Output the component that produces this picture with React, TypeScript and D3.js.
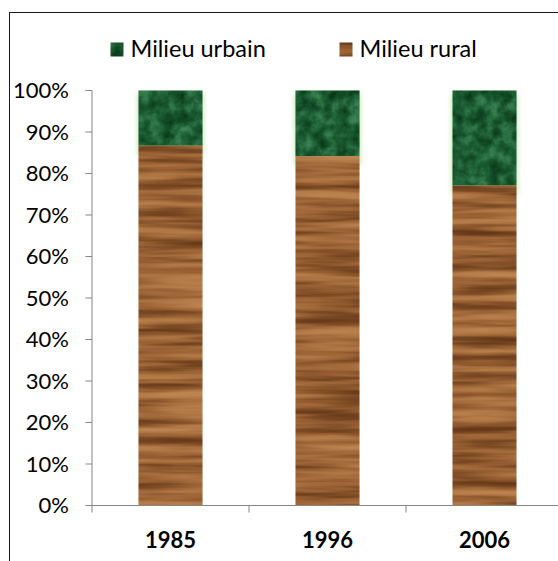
import React from "react";
import * as d3 from "d3";

// Share of population by place of residence (100% stacked)
const years = ["1985", "1996", "2006"];
const urbanShare = [13.3, 15.8, 22.9];
const ruralShare = [86.7, 84.2, 77.1];
const seriesNames = ["Milieu urbain", "Milieu rural"];
const yTicks = [0, 10, 20, 30, 40, 50, 60, 70, 80, 90, 100];

const W = 558;
const H = 561;
const FONT = "Lato, 'Open Sans', sans-serif";

export default function App() {
  const x = d3
    .scaleBand<string>()
    .domain(years)
    .range([92, 563])
    .paddingInner(0.592)
    .paddingOuter(0.296);
  const y = d3.scaleLinear().domain([0, 100]).range([505.5, 90.5]);
  const x0 = x.range()[0];
  const y0 = y(0);

  const boundaries = d3.range(years.length + 1).map((i) => x0 + i * x.step());

  return (
    <svg
      width={W}
      height={H}
      style={{ position: "absolute", left: 0, top: 0, background: "#fff" }}
      fontFamily={FONT}
    >
      <defs>
        {/* wood grain: stretched noise mapped onto browns */}
        <filter id="wood" x="0" y="0" width="1" height="1" colorInterpolationFilters="sRGB">
          <feTurbulence type="fractalNoise" baseFrequency="0.007 0.11" numOctaves="3" seed="11" result="n" />
          <feColorMatrix
            in="n"
            type="matrix"
            values="1 0 0 0 0  1 0 0 0 0  1 0 0 0 0  0 0 0 0 1"
            result="g"
          />
          <feComponentTransfer in="g" result="c">
            <feFuncR type="table" tableValues="0.40 0.40 0.48 0.61 0.69 0.74 0.74" />
            <feFuncG type="table" tableValues="0.22 0.22 0.29 0.39 0.47 0.52 0.52" />
            <feFuncB type="table" tableValues="0.10 0.10 0.14 0.21 0.27 0.31 0.31" />
          </feComponentTransfer>
          <feComposite in="c" in2="SourceAlpha" operator="in" />
        </filter>
        {/* green marble */}
        <filter id="marble" x="0" y="0" width="1" height="1" colorInterpolationFilters="sRGB">
          <feTurbulence type="fractalNoise" baseFrequency="0.08" numOctaves="4" seed="4" result="n" />
          <feColorMatrix
            in="n"
            type="matrix"
            values="1 0 0 0 0  1 0 0 0 0  1 0 0 0 0  0 0 0 0 1"
            result="g"
          />
          <feComponentTransfer in="g" result="c">
            <feFuncR type="table" tableValues="0.03 0.03 0.07 0.11 0.18 0.24 0.24" />
            <feFuncG type="table" tableValues="0.22 0.22 0.29 0.36 0.45 0.52 0.52" />
            <feFuncB type="table" tableValues="0.10 0.10 0.15 0.20 0.28 0.33 0.33" />
          </feComponentTransfer>
          <feComposite in="c" in2="SourceAlpha" operator="in" />
        </filter>
        <filter id="glow" x="-0.5" y="-0.5" width="2" height="2">
          <feGaussianBlur stdDeviation="3" />
        </filter>
      </defs>

      {/* chart frame */}
      <rect x={9.5} y={12.5} width={W + 20} height={H + 20} fill="none" stroke="#1a1a1a" strokeWidth={1} />

      {/* legend */}
      <g fontSize={23.5} fill="#000">
        <rect x={110.5} y={42.5} width={13} height={14} fill="#000" filter="url(#marble)" />
        <text x={130.5} y={57}>{seriesNames[0]}</text>
        <rect x={339.5} y={42.5} width={13} height={14} fill="#000" filter="url(#wood)" />
        <text x={359.5} y={57}>{seriesNames[1]}</text>
      </g>

      {/* y axis */}
      <line x1={92} x2={92} y1={y(100)} y2={y0} stroke="#868686" />
      {yTicks.map((t) => (
        <g key={t}>
          <line x1={85.5} x2={92} y1={y(t)} y2={y(t)} stroke="#868686" />
          <text x={69} y={y(t)} dy="0.36em" textAnchor="end" fontSize={22} fill="#000">
            {t}%
          </text>
        </g>
      ))}

      {/* bars */}
      {years.map((yr, i) => {
        const bx = x(yr)!;
        const bw = x.bandwidth();
        const ruralTop = y(ruralShare[i]);
        const urbanTop = y(ruralShare[i] + urbanShare[i]);
        return (
          <g key={yr}>
            <rect
              x={bx}
              y={urbanTop + 3}
              width={bw}
              height={ruralTop - urbanTop + 6}
              fill="#a6dc86"
              opacity={0.85}
              filter="url(#glow)"
            />
            <rect x={bx} y={urbanTop} width={bw} height={ruralTop - urbanTop} fill="#000" filter="url(#marble)" />
            <rect x={bx} y={ruralTop} width={bw} height={y0 - ruralTop} fill="#000" filter="url(#wood)" />
          </g>
        );
      })}

      {/* x axis */}
      <line x1={x0} x2={W} y1={y0} y2={y0} stroke="#868686" />
      {boundaries.map((bx, i) => (
        <line key={i} x1={bx} x2={bx} y1={y0} y2={y0 + 7} stroke="#868686" />
      ))}
      {years.map((yr) => (
        <text
          key={yr}
          x={x(yr)! + x.bandwidth() / 2}
          y={548}
          textAnchor="middle"
          fontSize={22}
          fontWeight="bold"
          fill="#000"
        >
          {yr}
        </text>
      ))}
    </svg>
  );
}
